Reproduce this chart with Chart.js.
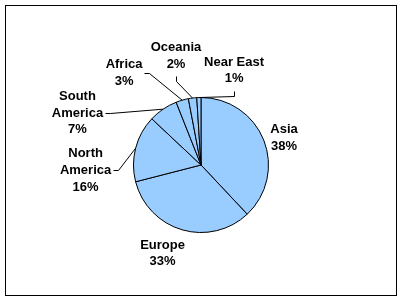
<!DOCTYPE html>
<html>
<head>
<meta charset="utf-8">
<script src="https://cdn.jsdelivr.net/npm/chart.js@4/dist/chart.umd.min.js"></script>
<style>
  html, body { margin: 0; padding: 0; background: #fff; }
  #wrap { position: relative; width: 403px; height: 301px; }
</style>
</head>
<body>
<div id="wrap"><canvas id="pieChart" width="403" height="301"></canvas></div>
<script>
const regions = ["Asia", "Europe", "North America", "South America", "Africa", "Oceania", "Near East"];
const shares = [38, 33, 16, 7, 3, 2, 1];

// where each label block sits, relative to the pie centre (in radii), and how its leader leaves it
const labelLayout = {
  "Asia":          { dx: 1.23,  dy: -0.40, wrap: false, lead: null },
  "Europe":        { dx: -0.57, dy: 1.31,  wrap: false, lead: null },
  "North America": { dx: -1.71, dy: 0.08,  wrap: true,  lead: "right" },
  "South America": { dx: -1.83, dy: -0.77, wrap: true,  lead: "right" },
  "Africa":        { dx: -1.14, dy: -1.36, wrap: false, lead: "right" },
  "Oceania":       { dx: -0.37, dy: -1.62, wrap: false, lead: "bottom" },
  "Near East":     { dx: 0.49,  dy: -1.40, wrap: false, lead: "bottom" }
};

const frame = {
  id: "frame",
  beforeDraw(chart) {
    const ctx = chart.ctx;
    ctx.save();
    ctx.fillStyle = "#fff";
    ctx.fillRect(0, 0, chart.width, chart.height);
    ctx.strokeStyle = "#000";
    ctx.lineWidth = 1;
    ctx.strokeRect(5.5, 5.5, 391, 290);
    ctx.restore();
  }
};

const sliceLabels = {
  id: "sliceLabels",
  afterDatasetsDraw(chart) {
    const ctx = chart.ctx;
    const meta = chart.getDatasetMeta(0);
    const lineH = 16.7;
    ctx.save();
    ctx.font = "bold 13px 'Liberation Sans', Arial, sans-serif";
    ctx.textAlign = "center";
    ctx.textBaseline = "middle";
    ctx.fillStyle = "#000";
    ctx.strokeStyle = "#000";
    ctx.lineWidth = 1;

    meta.data.forEach((arc, i) => {
      const p = arc.getProps(["x", "y", "startAngle", "endAngle", "outerRadius"], true);
      const name = regions[i];
      const lay = labelLayout[name];
      const lines = (lay.wrap ? name.split(" ") : [name]).concat([shares[i] + "%"]);
      const cx = p.x + lay.dx * p.outerRadius;
      const cy = p.y + lay.dy * p.outerRadius;
      const top = cy - (lines.length - 1) * lineH / 2;
      lines.forEach((t, k) => ctx.fillText(t, cx, top + k * lineH));

      if (lay.lead) {
        const mid = (p.startAngle + p.endAngle) / 2;
        const ex = p.x + Math.cos(mid) * p.outerRadius;
        const ey = p.y + Math.sin(mid) * p.outerRadius;
        let sx, sy, kx, ky;
        if (lay.lead === "right") {
          const w = Math.max(...lines.map((t) => ctx.measureText(t).width));
          sx = cx + w / 2 + 2;
          sy = cy + (lay.wrap ? 0 : 0);
          kx = sx + 5;
          ky = sy;
        } else {
          sx = cx;
          sy = cy + lines.length * lineH / 2 + 4;
          kx = sx;
          ky = sy + 5;
        }
        ctx.beginPath();
        ctx.moveTo(Math.round(sx) + 0.5, Math.round(sy) + 0.5);
        ctx.lineTo(Math.round(kx) + 0.5, Math.round(ky) + 0.5);
        ctx.lineTo(ex, ey);
        ctx.stroke();
      }
    });
    ctx.restore();
  }
};

new Chart(document.getElementById("pieChart"), {
  type: "pie",
  data: {
    labels: regions,
    datasets: [{
      data: shares,
      backgroundColor: "#99ccff",
      borderColor: "#000",
      borderWidth: 1
    }]
  },
  options: {
    responsive: false,
    animation: false,
    devicePixelRatio: 1,
    layout: { padding: { left: 133, right: 134, top: 97, bottom: 68 } },
    plugins: {
      legend: { display: false },
      tooltip: { enabled: false }
    }
  },
  plugins: [frame, sliceLabels]
});
</script>
</body>
</html>
